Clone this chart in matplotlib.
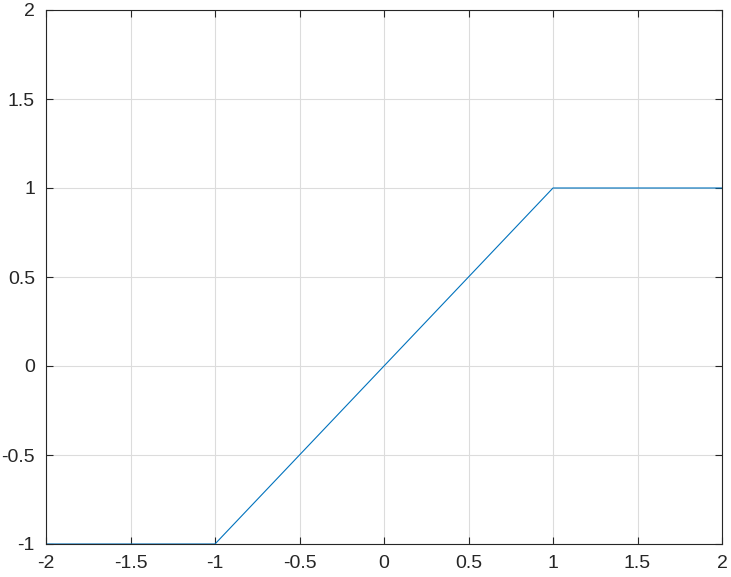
import matplotlib.pyplot as plt
import numpy as np

# saturation function breakpoints
x = [-2, -1, 1, 2]
y = [-1, -1, 1, 1]

xticks = [-2, -1.5, -1, -0.5, 0, 0.5, 1, 1.5, 2]
yticks = [-1, -0.5, 0, 0.5, 1, 1.5, 2]

plt.rcParams['font.family'] = ['Liberation Sans', 'DejaVu Sans']
plt.rcParams['axes.unicode_minus'] = False

fig = plt.figure(figsize=(7.31, 5.77), dpi=100)
ax = fig.add_axes([46 / 731, 33 / 577, 676 / 731, 534 / 577])

ax.plot(x, y, color='#0072BD', linewidth=0.8)

ax.set_xlim(-2, 2)
ax.set_ylim(-1, 2)
ax.set_xticks(xticks)
ax.set_yticks(yticks)
ax.set_xticklabels([f'{t:g}' for t in xticks])
ax.set_yticklabels([f'{t:g}' for t in yticks])
ax.grid(True, color='#dcdcdc', linewidth=0.8)
ax.set_axisbelow(True)
ax.tick_params(direction='in', top=True, right=True, labelsize=14,
               length=5, width=0.8, color='#262626', labelcolor='#262626', pad=8)
for s in ax.spines.values():
    s.set_color('#262626')
    s.set_linewidth(0.8)

fig.savefig('out.png', dpi=100)
